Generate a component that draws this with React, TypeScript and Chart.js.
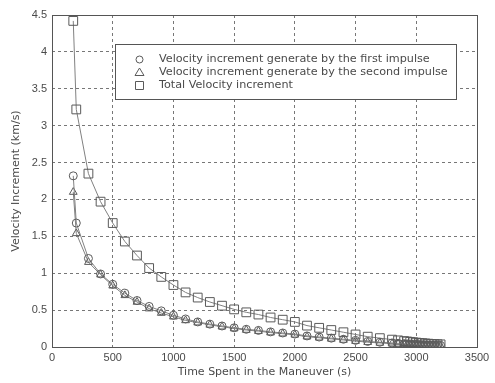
import React, { useEffect, useRef } from "react";
import { Chart, registerables } from "chart.js";

Chart.register(...registerables);

const timeValues = [175, 200, 300, 400, 500, 600, 700, 800, 900, 1000, 1100, 1200, 1300, 1400, 1500, 1600, 1700, 1800, 1900, 2000, 2100, 2200, 2300, 2400, 2500, 2600, 2700, 2800, 2850, 2900, 2925, 2950, 2975, 3000, 3025, 3050, 3075, 3100, 3125, 3150, 3175, 3200];
const firstImpulse = [2.32, 1.68, 1.2, 0.99, 0.85, 0.73, 0.63, 0.55, 0.49, 0.43, 0.38, 0.34, 0.31, 0.285, 0.26, 0.24, 0.225, 0.205, 0.19, 0.175, 0.15, 0.135, 0.12, 0.105, 0.09, 0.075, 0.065, 0.055, 0.05, 0.045, 0.042, 0.04, 0.037, 0.035, 0.033, 0.031, 0.029, 0.027, 0.025, 0.024, 0.023, 0.022];
const secondImpulse = [2.1, 1.54, 1.15, 0.98, 0.83, 0.7, 0.61, 0.52, 0.46, 0.41, 0.36, 0.33, 0.3, 0.275, 0.25, 0.23, 0.215, 0.195, 0.18, 0.165, 0.14, 0.125, 0.11, 0.095, 0.08, 0.065, 0.055, 0.045, 0.04, 0.035, 0.033, 0.03, 0.028, 0.025, 0.023, 0.021, 0.019, 0.018, 0.017, 0.016, 0.015, 0.014];
const totalIncrement = [4.42, 3.22, 2.35, 1.97, 1.68, 1.43, 1.24, 1.07, 0.95, 0.84, 0.74, 0.67, 0.61, 0.56, 0.51, 0.47, 0.44, 0.4, 0.37, 0.34, 0.29, 0.26, 0.23, 0.2, 0.17, 0.14, 0.12, 0.1, 0.09, 0.08, 0.075, 0.07, 0.065, 0.06, 0.056, 0.052, 0.048, 0.045, 0.042, 0.04, 0.038, 0.036];

const seriesLabels = [
  "Velocity increment generate by the first impulse",
  "Velocity increment generate by the second impulse",
  "Total Velocity increment",
];
const seriesShapes = ["circle", "triangle", "rect"];
const xAxisTitle = "Time Spent in the Maneuver (s)";
const yAxisTitle = "Velocity Increment (km/s)";

const FONT = "'Liberation Sans', Arial, sans-serif";
const WIDE = "'DejaVu Sans', sans-serif";
const TEXT = "#4a4a4a";
const MARK = "#5a5a5a";
const LINE = "#808080";

const toPoints = (ys: number[]) => timeValues.map((x, i) => ({ x, y: ys[i] }));

const framePlugin = {
  id: "frame",
  afterDraw(chart: any) {
    const { ctx, chartArea: a } = chart;
    ctx.save();
    ctx.strokeStyle = "#555";
    ctx.lineWidth = 1;
    ctx.setLineDash([]);
    ctx.strokeRect(Math.round(a.left) + 0.5, Math.round(a.top) + 0.5, Math.round(a.right - a.left), Math.round(a.bottom - a.top));
    ctx.restore();
  },
};

function drawShape(ctx: CanvasRenderingContext2D, shape: string, x: number, y: number) {
  ctx.beginPath();
  if (shape === "circle") {
    ctx.arc(x, y, 3.5, 0, Math.PI * 2);
  } else if (shape === "triangle") {
    ctx.moveTo(x, y - 4.5);
    ctx.lineTo(x + 4.5, y + 3);
    ctx.lineTo(x - 4.5, y + 3);
    ctx.closePath();
  } else {
    ctx.rect(x - 4, y - 4, 8, 8);
  }
  ctx.stroke();
}

const legendPlugin = {
  id: "boxLegend",
  afterDraw(chart: any) {
    const { ctx } = chart;
    const bx = 115, by = 44, bw = 341, bh = 55;
    ctx.save();
    ctx.setLineDash([]);
    ctx.fillStyle = "#fff";
    ctx.fillRect(bx, by, bw, bh);
    ctx.strokeStyle = "#555";
    ctx.lineWidth = 1;
    ctx.strokeRect(bx + 0.5, by + 0.5, bw, bh);
    ctx.font = `11.2px ${WIDE}`;
    ctx.textBaseline = "middle";
    seriesLabels.forEach((label, i) => {
      const y = 59 + i * 13;
      ctx.strokeStyle = MARK;
      ctx.fillStyle = TEXT;
      drawShape(ctx, seriesShapes[i], 139.5, y + 0.5);
      ctx.fillText(label, 159, y + 0.5);
    });
    ctx.restore();
  },
};

export default function App() {
  const ref = useRef<HTMLCanvasElement | null>(null);
  useEffect(() => {
    document.body.style.margin = "0";
    const canvas = ref.current!;
    const makeDs = (label: string, ys: number[], shape: string, r: number) => ({
      label,
      data: toPoints(ys),
      borderColor: LINE,
      borderWidth: 1,
      backgroundColor: "rgba(0,0,0,0)",
      pointStyle: shape,
      pointRadius: r,
      pointBorderColor: MARK,
      pointBackgroundColor: "rgba(0,0,0,0)",
      pointBorderWidth: 1,
      tension: 0,
    });
    const chart = new Chart(canvas, {
      type: "line",
      data: {
        datasets: [
          makeDs(seriesLabels[0], firstImpulse, "circle", 4),
          makeDs(seriesLabels[1], secondImpulse, "triangle", 4.5),
          makeDs(seriesLabels[2], totalIncrement, "rect", 6.2),
        ],
      },
      options: {
        animation: false,
        responsive: false,
        layout: { padding: { left: 0, top: 15, right: 18, bottom: 0 } },
        plugins: { legend: { display: false }, tooltip: { enabled: false } },
        scales: {
          x: {
            type: "linear",
            min: 0,
            max: 3500,
            ticks: { stepSize: 500, color: TEXT, font: { family: FONT, size: 11 }, padding: 4, callback: (v: any) => String(v) },
            grid: { color: "#777", lineWidth: 1, drawTicks: false },
            border: { dash: [3, 3], display: false },
            title: { display: true, text: xAxisTitle, color: TEXT, font: { family: WIDE, size: 11 }, padding: { top: 2 } },
            afterFit(scale: any) { scale.height = 36; },
          },
          y: {
            type: "linear",
            min: 0,
            max: 4.5,
            ticks: { stepSize: 0.5, color: TEXT, font: { family: FONT, size: 11 }, padding: 5, callback: (v: any) => String(v) },
            grid: { color: "#777", lineWidth: 1, drawTicks: false },
            border: { dash: [3, 3], display: false },
            title: { display: true, text: yAxisTitle, color: TEXT, font: { family: WIDE, size: 11 }, padding: { top: 10, bottom: 0 } },
            afterFit(scale: any) { scale.width = 52; },
          },
        },
      },
      plugins: [framePlugin, legendPlugin],
    } as any);
    return () => chart.destroy();
  }, []);
  return <canvas ref={ref} width={495} height={383} style={{ display: "block" }} />;
}
